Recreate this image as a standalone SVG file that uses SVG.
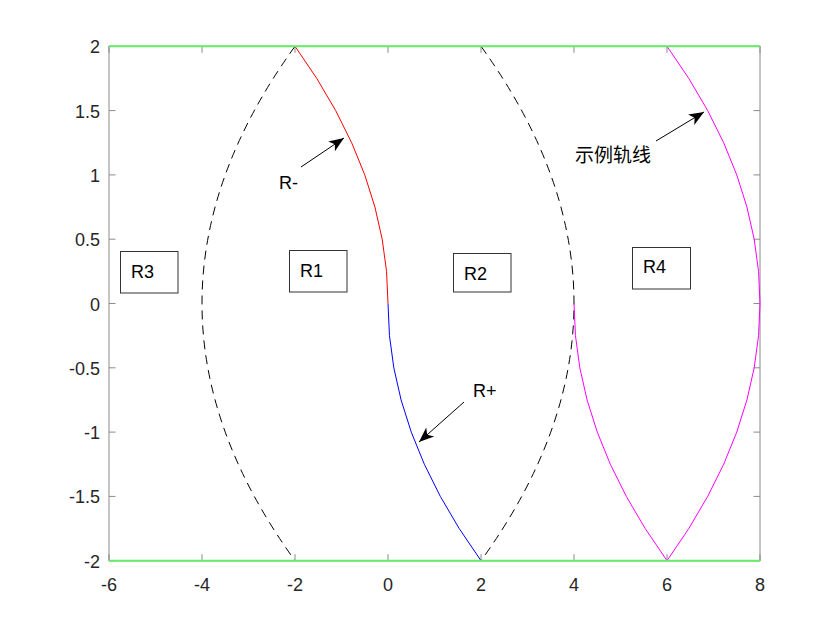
<svg xmlns="http://www.w3.org/2000/svg" width="840" height="630" viewBox="0 0 840 630">
<style>
text{font-family:"Liberation Sans",Arial,"Noto Sans CJK SC",sans-serif;fill:#262626}
.tk{font-size:18px}
.lbl{font-size:18px;fill:#000}
.ax{stroke:#8a8a8a;stroke-width:1;fill:none}
.box{fill:#fff;stroke:#333;stroke-width:1}
.dash{fill:none;stroke:#000;stroke-width:1;stroke-dasharray:9 6}
.arr{stroke:#000;stroke-width:1;fill:none;marker-end:url(#ah)}
</style>
<defs>
<marker id="ah" markerUnits="userSpaceOnUse" markerWidth="20" markerHeight="14" viewBox="-16 -7 17 14" refX="0" refY="0" orient="auto">
<path d="M0,0 L-15,-6 L-11,0 L-15,6 Z" fill="#000"/>
</marker>
</defs>
<rect width="840" height="630" fill="#fff"/>
<g id="axes">
<rect class="ax" x="109" y="46.3" width="651" height="514.4"/>
<path class="ax" d="M109,560.7v-6.5M202,560.7v-6.5M295,560.7v-6.5M388,560.7v-6.5M481,560.7v-6.5M574,560.7v-6.5M667,560.7v-6.5M760,560.7v-6.5
M109,46.3v6.5M202,46.3v6.5M295,46.3v6.5M388,46.3v6.5M481,46.3v6.5M574,46.3v6.5M667,46.3v6.5M760,46.3v6.5
M109,46.3h6.5M109,110.6h6.5M109,174.9h6.5M109,239.2h6.5M109,303.5h6.5M109,367.8h6.5M109,432.1h6.5M109,496.4h6.5M109,560.7h6.5
M760,46.3h-6.5M760,110.6h-6.5M760,174.9h-6.5M760,239.2h-6.5M760,303.5h-6.5M760,367.8h-6.5M760,432.1h-6.5M760,496.4h-6.5M760,560.7h-6.5"/>
<g class="tk" text-anchor="end">
<text x="100" y="53.3">2</text>
<text x="100" y="117.6">1.5</text>
<text x="100" y="181.9">1</text>
<text x="100" y="246.2">0.5</text>
<text x="100" y="310.5">0</text>
<text x="100" y="374.8">-0.5</text>
<text x="100" y="439.1">-1</text>
<text x="100" y="503.4">-1.5</text>
<text x="100" y="567.7">-2</text>
</g>
<g class="tk" text-anchor="middle">
<text x="109" y="590.5">-6</text>
<text x="202" y="590.5">-4</text>
<text x="295" y="590.5">-2</text>
<text x="388" y="590.5">0</text>
<text x="481" y="590.5">2</text>
<text x="574" y="590.5">4</text>
<text x="667" y="590.5">6</text>
<text x="760" y="590.5">8</text>
</g>
</g>
<g id="curves">
<path class="dash" d="M295,46.3 Q109,303.5 295,560.7"/>
<path class="dash" d="M481,46.3 Q667,303.5 481,560.7"/>
<path d="M388,303.5 Q388,174.9 295,46.3" fill="none" stroke="#ff0000" stroke-width="1"/>
<path d="M388,303.5 Q388,432.1 481,560.7" fill="none" stroke="#0000ff" stroke-width="1"/>
<path d="M667,46.3 Q853,303.5 667,560.7" fill="none" stroke="#ff00ff" stroke-width="1"/>
<path d="M574,303.5 Q574,432.1 667,560.7" fill="none" stroke="#ff00ff" stroke-width="1"/>
<path d="M109,46.3H760M109,560.7H760" stroke="#66ee66" stroke-width="2" fill="none"/>
</g>
<g id="R3"><rect class="box" x="120.5" y="251.5" width="57.5" height="41.5"/><text class="lbl" x="131" y="278">R3</text></g>
<g id="R1"><rect class="box" x="289.5" y="250.5" width="57.5" height="41.5"/><text class="lbl" x="300" y="277">R1</text></g>
<g id="R2"><rect class="box" x="453.5" y="253.5" width="57.5" height="38.5"/><text class="lbl" x="464" y="280">R2</text></g>
<g id="R4"><rect class="box" x="632.5" y="247.5" width="58" height="41.5"/><text class="lbl" x="643" y="273">R4</text></g>
<g id="connectors">
<line class="arr" x1="301" y1="167" x2="344" y2="138"/>
<line class="arr" x1="464" y1="402" x2="419" y2="442"/>
<line class="arr" x1="656" y1="141" x2="704" y2="112"/>
</g>
<g id="annotations">
<text class="lbl" x="279" y="189">R-</text>
<text class="lbl" x="473" y="397">R+</text>
<text class="lbl" x="575" y="162" style="font-size:19px">示例轨线</text>
</g>
</svg>
